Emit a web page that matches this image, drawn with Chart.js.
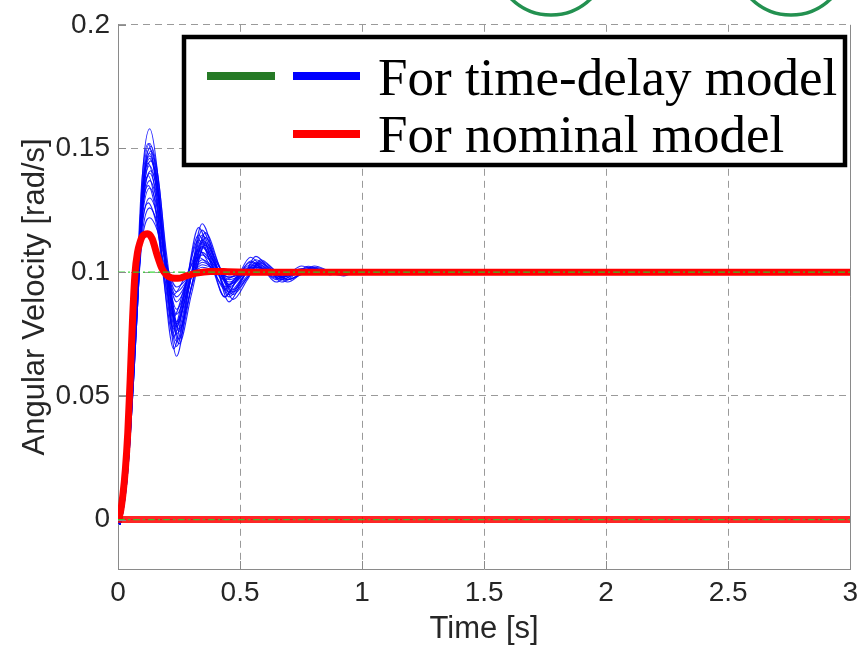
<!DOCTYPE html>
<html>
<head>
<meta charset="utf-8">
<script src="https://cdn.jsdelivr.net/npm/chart.js@4.4.1/dist/chart.umd.min.js"></script>
<style>
    html, body { margin: 0; padding: 0; background: #fff; }
    #wrap { width: 865px; height: 650px; }
</style>
</head>
<body>
<div id="wrap"><canvas id="velChart" width="865" height="650"></canvas></div>
<script>
// axes
const xTicks = [0, 0.5, 1, 1.5, 2, 2.5, 3];
const yTicks = [0, 0.05, 0.1, 0.15, 0.2];

// nominal model (red)
const nominalTime = [0, 0.01, 0.02, 0.03, 0.04, 0.05, 0.06, 0.07, 0.08, 0.09, 0.1, 0.122, 0.14, 0.16, 0.18, 0.2, 0.22, 0.245, 0.28, 0.32, 0.38, 0.45, 0.55, 3];
const nominalVals = [0, 0.003, 0.01, 0.02, 0.035, 0.057, 0.082, 0.1, 0.108, 0.112, 0.1145, 0.1155, 0.1135, 0.107, 0.1015, 0.0988, 0.0977, 0.0975, 0.0985, 0.0996, 0.1003, 0.1002, 0.1, 0.1];

// flat lines
const flatTime = [0, 3];
const zeroVals = [0, 0];
const refVals = [0.1, 0.1];

// time-delay model runs (blue), three time grids
const blueTimeA = [0, 0.008, 0.02, 0.035, 0.05, 0.065, 0.08, 0.1, 0.13, 0.16, 0.19, 0.24, 0.29, 0.345, 0.4, 0.455, 0.51, 0.565, 0.62, 0.67, 0.725, 0.78, 0.84, 0.9, 0.95, 1.0, 3];
const blueTimeB = [0, 0.008, 0.02, 0.035, 0.05, 0.066, 0.082, 0.103, 0.135, 0.166, 0.198, 0.25, 0.302, 0.358, 0.415, 0.472, 0.53, 0.585, 0.64, 0.695, 0.75, 0.805, 0.865, 0.925, 0.975, 1.02, 3];
const blueTimeC = [0, 0.008, 0.02, 0.034, 0.048, 0.062, 0.077, 0.096, 0.124, 0.152, 0.181, 0.228, 0.277, 0.33, 0.384, 0.437, 0.49, 0.543, 0.597, 0.648, 0.7, 0.752, 0.81, 0.868, 0.92, 0.97, 3];

const blueRunsA = [
    [0, -0.002, 0.004, 0.016, 0.036, 0.064, 0.094, 0.139, 0.158, 0.142, 0.106, 0.066, 0.093, 0.1196, 0.104, 0.088, 0.097, 0.1064, 0.101, 0.096, 0.099, 0.1024, 0.1007, 0.099, 0.1, 0.1, 0.1],
    [0, -0.002, 0.004, 0.016, 0.036, 0.064, 0.094, 0.135, 0.152, 0.138, 0.105, 0.070, 0.0935, 0.117, 0.1035, 0.090, 0.0975, 0.105, 0.101, 0.097, 0.0995, 0.102, 0.1005, 0.099, 0.1, 0.1, 0.1],
    [0, -0.001, 0.005, 0.017, 0.037, 0.065, 0.094, 0.133, 0.150, 0.137, 0.1055, 0.072, 0.0935, 0.115, 0.103, 0.091, 0.0975, 0.104, 0.1005, 0.097, 0.0993, 0.1015, 0.1005, 0.0995, 0.1, 0.1, 0.1],
    [0, -0.002, 0.004, 0.016, 0.036, 0.064, 0.093, 0.132, 0.148, 0.1356, 0.1064, 0.075, 0.094, 0.113, 0.1025, 0.092, 0.0978, 0.1035, 0.1008, 0.098, 0.0995, 0.101, 0.1003, 0.0995, 0.1, 0.1, 0.1],
    [0, -0.001, 0.005, 0.017, 0.037, 0.065, 0.093, 0.130, 0.146, 0.1344, 0.1072, 0.078, 0.095, 0.112, 0.103, 0.094, 0.0985, 0.103, 0.1005, 0.098, 0.0995, 0.101, 0.1005, 0.1, 0.1, 0.1, 0.1],
    [0, -0.002, 0.004, 0.016, 0.036, 0.063, 0.092, 0.128, 0.143, 0.1323, 0.1071, 0.080, 0.095, 0.110, 0.1025, 0.095, 0.0985, 0.102, 0.1005, 0.099, 0.0998, 0.1005, 0.1003, 0.1, 0.1, 0.1, 0.1],
    [0, -0.001, 0.005, 0.017, 0.037, 0.064, 0.092, 0.126, 0.140, 0.1303, 0.1075, 0.083, 0.0955, 0.108, 0.102, 0.096, 0.099, 0.102, 0.1005, 0.099, 0.0998, 0.1005, 0.1003, 0.1, 0.1, 0.1, 0.1],
    [0, -0.002, 0.004, 0.016, 0.035, 0.062, 0.091, 0.124, 0.137, 0.1282, 0.1074, 0.085, 0.096, 0.107, 0.102, 0.097, 0.099, 0.101, 0.1003, 0.0995, 0.0998, 0.1, 0.1, 0.1, 0.1, 0.1, 0.1],
    [0, -0.001, 0.005, 0.017, 0.036, 0.063, 0.091, 0.122, 0.134, 0.1262, 0.1078, 0.088, 0.0965, 0.105, 0.1015, 0.098, 0.0995, 0.101, 0.1005, 0.1, 0.1, 0.1, 0.1, 0.1, 0.1, 0.1, 0.1],
    [0, -0.002, 0.004, 0.015, 0.035, 0.062, 0.09, 0.119, 0.130, 0.1232, 0.1072, 0.090, 0.097, 0.104, 0.101, 0.098, 0.0993, 0.1005, 0.1003, 0.1, 0.1, 0.1, 0.1, 0.1, 0.1, 0.1, 0.1],
    [0, -0.001, 0.005, 0.016, 0.035, 0.062, 0.09, 0.116, 0.126, 0.1202, 0.1066, 0.092, 0.0975, 0.103, 0.101, 0.099, 0.0995, 0.1, 0.1, 0.1, 0.1, 0.1, 0.1, 0.1, 0.1, 0.1, 0.1],
    [0, -0.001, 0.004, 0.015, 0.034, 0.061, 0.089, 0.1136, 0.122, 0.1172, 0.106, 0.094, 0.098, 0.102, 0.1005, 0.099, 0.0995, 0.1, 0.1, 0.1, 0.1, 0.1, 0.1, 0.1, 0.1, 0.1, 0.1],
    [0, -0.002, 0.004, 0.016, 0.036, 0.064, 0.093, 0.131, 0.147, 0.1354, 0.1082, 0.079, 0.0948, 0.1105, 0.1028, 0.095, 0.0988, 0.1025, 0.1003, 0.098, 0.0995, 0.101, 0.1003, 0.0995, 0.1, 0.1, 0.1]
];
const blueRunsB = [
    [0, -0.002, 0.003, 0.014, 0.033, 0.06, 0.09, 0.130, 0.145, 0.1328, 0.104, 0.073, 0.0945, 0.116, 0.1025, 0.089, 0.097, 0.105, 0.101, 0.097, 0.0995, 0.102, 0.1005, 0.099, 0.1, 0.1, 0.1],
    [0, -0.002, 0.003, 0.014, 0.033, 0.06, 0.09, 0.1325, 0.149, 0.1368, 0.108, 0.077, 0.094, 0.111, 0.102, 0.093, 0.0985, 0.104, 0.1, 0.096, 0.0993, 0.1025, 0.1005, 0.0985, 0.1, 0.1, 0.1],
    [0, -0.001, 0.004, 0.015, 0.034, 0.061, 0.09, 0.127, 0.141, 0.130, 0.104, 0.076, 0.095, 0.114, 0.1025, 0.091, 0.0978, 0.1045, 0.1008, 0.097, 0.099, 0.101, 0.1003, 0.0995, 0.1, 0.1, 0.1],
    [0, -0.002, 0.003, 0.014, 0.033, 0.06, 0.09, 0.1339, 0.151, 0.1374, 0.1054, 0.071, 0.0915, 0.112, 0.102, 0.092, 0.0978, 0.1035, 0.1003, 0.097, 0.0993, 0.1015, 0.1003, 0.099, 0.1, 0.1, 0.1]
];
const blueRunsC = [
    [0, -0.002, 0.005, 0.018, 0.038, 0.066, 0.095, 0.1227, 0.135, 0.126, 0.1048, 0.082, 0.0955, 0.109, 0.1015, 0.094, 0.0985, 0.103, 0.1005, 0.098, 0.0995, 0.101, 0.1005, 0.1, 0.1, 0.1, 0.1],
    [0, -0.002, 0.005, 0.018, 0.038, 0.066, 0.096, 0.1346, 0.152, 0.1379, 0.1047, 0.069, 0.0935, 0.118, 0.104, 0.090, 0.098, 0.106, 0.101, 0.096, 0.0993, 0.1025, 0.1008, 0.099, 0.1, 0.1, 0.1],
    [0, -0.001, 0.005, 0.017, 0.037, 0.064, 0.093, 0.1178, 0.128, 0.1217, 0.1069, 0.091, 0.0985, 0.106, 0.1015, 0.097, 0.0995, 0.102, 0.1005, 0.099, 0.1, 0.1, 0.1, 0.1, 0.1, 0.1, 0.1],
    [0, -0.002, 0.005, 0.018, 0.038, 0.066, 0.095, 0.129, 0.144, 0.1326, 0.1058, 0.077, 0.095, 0.113, 0.103, 0.093, 0.0985, 0.104, 0.1008, 0.0975, 0.0993, 0.101, 0.1003, 0.0995, 0.1, 0.1, 0.1],
    [0, -0.001, 0.005, 0.017, 0.037, 0.064, 0.093, 0.1255, 0.139, 0.128, 0.102, 0.074, 0.0945, 0.115, 0.1025, 0.090, 0.0973, 0.1045, 0.1008, 0.097, 0.0993, 0.1015, 0.1003, 0.099, 0.1, 0.1, 0.1]
];

const legendRows = ['For time-delay model', 'For nominal model'];

function toPoints(times, vals) {
    return times.map((t, i) => ({ x: t, y: vals[i] }));
}

const BLUE = 'rgba(0, 0, 255, 0.85)';
const RED = '#ff0000';
const GREEN_REF = 'rgba(40, 210, 40, 0.9)';
const AXIS_GREY = '#8a8a8a';

const datasets = [];

// green dash-dot reference lines on top
datasets.push({ data: toPoints(flatTime, refVals), borderColor: GREEN_REF, borderWidth: 1.2, borderDash: [7, 3, 2, 3], order: 0 });
datasets.push({ data: toPoints(flatTime, zeroVals), borderColor: GREEN_REF, borderWidth: 1.2, borderDash: [7, 3, 2, 3], order: 0 });

// red nominal
datasets.push({ data: toPoints(nominalTime, nominalVals), borderColor: RED, borderWidth: 7, cubicInterpolationMode: 'monotone', order: 1 });
datasets.push({ data: toPoints(flatTime, zeroVals), borderColor: 'rgba(255, 0, 0, 0.85)', borderWidth: 7, order: 1 });

// blue runs
[[blueTimeA, blueRunsA], [blueTimeB, blueRunsB], [blueTimeC, blueRunsC]].forEach(([times, runs]) => {
    runs.forEach(run => {
        datasets.push({ data: toPoints(times, run), borderColor: BLUE, borderWidth: 1.1, cubicInterpolationMode: 'monotone', order: 2 });
    });
});

// extra drawing: green circles cut at the top, inner ticks, right frame, legend box
const decorPlugin = {
    id: 'decor',
    afterDraw(chart) {
        const ctx = chart.ctx;
        const area = chart.chartArea;
        const xs = chart.scales.x;
        const ys = chart.scales.y;

        ctx.save();
        // circles belonging to the figure above
        ctx.strokeStyle = '#239150';
        ctx.lineWidth = 3.5;
        [551, 791].forEach(cx => {
            ctx.beginPath();
            ctx.arc(cx, -42, 57, 0, Math.PI * 2);
            ctx.stroke();
        });

        // right frame line
        ctx.strokeStyle = AXIS_GREY;
        ctx.lineWidth = 1;
        ctx.beginPath();
        ctx.moveTo(Math.round(area.right) + 0.5, area.top);
        ctx.lineTo(Math.round(area.right) + 0.5, area.bottom);
        ctx.stroke();

        // ticks pointing inward
        ctx.beginPath();
        xTicks.forEach(v => {
            const px = Math.round(xs.getPixelForValue(v)) + 0.5;
            ctx.moveTo(px, area.bottom);
            ctx.lineTo(px, area.bottom - 8);
        });
        yTicks.forEach(v => {
            const py = Math.round(ys.getPixelForValue(v)) + 0.5;
            ctx.moveTo(area.left, py);
            ctx.lineTo(area.left + 8, py);
        });
        ctx.stroke();

        // legend box
        const bx = 184, by = 37, bw = 661, bh = 128;
        ctx.fillStyle = '#fff';
        ctx.fillRect(bx, by, bw, bh);
        ctx.strokeStyle = '#000';
        ctx.lineWidth = 4.5;
        ctx.strokeRect(bx, by, bw, bh);

        ctx.lineWidth = 8;
        ctx.strokeStyle = '#267a26';
        ctx.beginPath(); ctx.moveTo(207, 76); ctx.lineTo(275, 76); ctx.stroke();
        ctx.strokeStyle = '#0000ff';
        ctx.beginPath(); ctx.moveTo(293, 76); ctx.lineTo(360, 76); ctx.stroke();
        ctx.strokeStyle = '#ff0000';
        ctx.beginPath(); ctx.moveTo(293, 134); ctx.lineTo(360, 134); ctx.stroke();

        ctx.fillStyle = '#000';
        ctx.font = '53px "Liberation Serif", "Times New Roman", serif';
        ctx.textAlign = 'left';
        ctx.textBaseline = 'alphabetic';
        ctx.fillText(legendRows[0], 378, 95);
        ctx.fillText(legendRows[1], 378, 152);
        ctx.restore();
    }
};

const tickFont = { family: '"Liberation Sans", Arial, sans-serif', size: 28 };
const titleFont = { family: '"Liberation Sans", Arial, sans-serif', size: 31 };

new Chart(document.getElementById('velChart'), {
    type: 'scatter',
    data: { datasets: datasets },
    options: {
        responsive: false,
        animation: false,
        showLine: true,
        elements: { point: { radius: 0 }, line: { tension: 0 } },
        layout: { padding: { left: 0, right: 9, top: 20, bottom: 0 } },
        plugins: { legend: { display: false }, tooltip: { enabled: false } },
        scales: {
            x: {
                type: 'linear',
                min: 0,
                max: 3,
                afterBuildTicks: scale => { scale.ticks = xTicks.map(v => ({ value: v })); },
                afterFit: scale => { scale.height = 81; },
                ticks: { font: tickFont, color: '#262626', padding: 7, maxRotation: 0, callback: v => String(v) },
                grid: {
                    drawTicks: false,
                    color: ctx => (ctx.tick && (ctx.tick.value === 0 || ctx.tick.value === 3)) ? 'rgba(0,0,0,0)' : '#9a9a9a',
                    lineWidth: 1
                },
                border: { display: true, color: AXIS_GREY, width: 1, dash: [7, 5] },
                title: { display: true, text: 'Time [s]', font: titleFont, color: '#262626', padding: { top: 0, bottom: 2 } }
            },
            y: {
                type: 'linear',
                min: -0.02,
                max: 0.2,
                afterBuildTicks: scale => { scale.ticks = yTicks.map(v => ({ value: v })); },
                afterFit: scale => { scale.width = 118; },
                ticks: { font: tickFont, color: '#262626', padding: 8, callback: v => String(v) },
                grid: { drawTicks: false, color: '#9a9a9a', lineWidth: 1 },
                border: { display: true, color: AXIS_GREY, width: 1, dash: [7, 5] },
                title: { display: true, text: 'Angular Velocity [rad/s]', font: titleFont, color: '#262626', padding: { top: 17, bottom: 0 } }
            }
        }
    },
    plugins: [decorPlugin]
});
</script>
</body>
</html>
